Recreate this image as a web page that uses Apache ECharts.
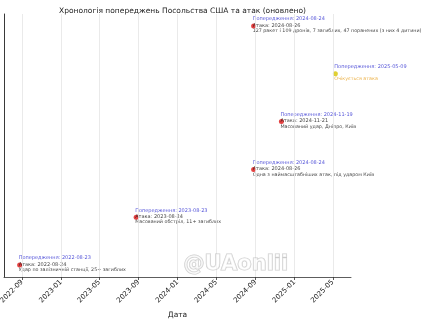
<!DOCTYPE html>
<html><head><meta charset="utf-8">
<script src="https://cdn.jsdelivr.net/npm/echarts@6/dist/echarts.min.js"></script>
<style>html,body{margin:0;padding:0;background:#fff}#c{width:428px;height:319px}</style>
</head><body><div id="c"></div>
<script>
const warningDates = ['2022-08-23','2023-08-23','2024-08-24','2024-11-19','2025-05-09','2024-08-24'];
const eventDates   = ['2022-08-24','2023-08-24','2024-08-26','2024-11-21','2025-05-09','2024-08-26'];
const attackDates  = ['2022-08-24','2023-08-24','2024-08-26','2024-11-21',null,'2024-08-26'];
const descriptions = ['Удар по залізничній станції, 25+ загиблих','Масований обстріл, 11+ загиблих','Одна з наймасштабніших атак, під ударом Київ','Масований удар, Дніпро, Київ','Очікується атака','127 ракет і 109 дронів, 7 загиблих, 47 поранених (з них 4 дитини)'];
const yValues = [0,1,2,3,4,5];
const tickLabels = ['2022-09','2023-01','2023-05','2023-09','2024-01','2024-05','2024-09','2025-01','2025-05'];

const P = s => echarts.number.parseDate(s).getTime();
const tickValues = tickLabels.map(s => P(s + '-01'));
const font = 'DejaVu Sans';

const data = eventDates.map((d,i) => {
  const expected = attackDates[i] === null;
  return {
    value: [P(d), yValues[i]],
    itemStyle: { color: expected ? '#d8c400' : '#dd1111' },
    label: {
      formatter: '{w|Попередження: ' + warningDates[i] + '}\n' +
        (expected ? '{a| }' : '{a|Атака: ' + attackDates[i] + '}') + '\n' +
        (expected ? '{o|' + descriptions[i] + '}' : '{d|' + descriptions[i] + '}')
    }
  };
});

const chart = echarts.init(document.getElementById('c'), null, {renderer:'canvas'});
chart.setOption({
  animation: false,
  title: { text: 'Хронологія попереджень Посольства США та атак (оновлено)', left: 177.5, textAlign: 'center', top: 2,
    textStyle: { fontFamily: font, fontSize: 7.5, fontWeight: 'normal', color: '#222' } },
  grid: { left: 4, top: 14, width: 347, height: 263, containLabel: false, outerBoundsMode: 'none' },
  xAxis: {
    type: 'value', min: P('2022-07-06'), max: P('2025-06-27'),
    name: 'Дата', nameLocation: 'middle', nameGap: 31,
    nameTextStyle: { fontFamily: font, fontSize: 7.5, color: '#222' },
    axisLine: { onZero: false, lineStyle: { color: '#333', width: 0.8 } },
    axisTick: { show: true, customValues: tickValues, length: 3, lineStyle: { color: '#333', width: 0.8 } },
    axisLabel: { customValues: tickValues, rotate: 45, margin: 4, fontFamily: font, fontSize: 7, color: '#222',
      formatter: v => { const i = tickValues.indexOf(v); return i >= 0 ? tickLabels[i] : ''; } },
    splitLine: { show: false }
  },
  yAxis: {
    type: 'value', min: -0.25, max: 5.25,
    axisLine: { show: true, onZero: false, lineStyle: { color: '#222', width: 0.9 } },
    axisTick: { show: false }, axisLabel: { show: false }, splitLine: { show: false }
  },
  series: [{
    type: 'scatter', symbol: 'circle', symbolSize: 5, data: data, z: 3,
    label: {
      show: true, position: [1.5, -8], align: 'left', verticalAlign: 'top',
      fontFamily: font,
      rich: {
        w: { fontFamily: font, fontSize: 5, color: '#2a2ad0', lineHeight: 7 },
        a: { fontFamily: font, fontSize: 5, color: '#111', lineHeight: 6 },
        d: { fontFamily: font, fontSize: 4.8, color: '#111', lineHeight: 5 },
        o: { fontFamily: font, fontSize: 4.8, color: '#e8a020', lineHeight: 5 }
      }
    },
    markLine: {
      silent: true, symbol: 'none', label: { show: false },
      lineStyle: { color: '#e4e4e4', width: 0.8, type: 'solid' },
      data: tickValues.map(v => ({ xAxis: v }))
    }
  }],
  graphic: [{
    type: 'text', left: 183, top: 253, z: 100,
    style: { text: '@UAonlii', font: 'bold 21px "DejaVu Sans"', fill: 'rgba(255,255,255,0.6)', stroke: 'rgba(160,160,160,0.55)', lineWidth: 1.2 }
  }]
});
</script></body></html>
